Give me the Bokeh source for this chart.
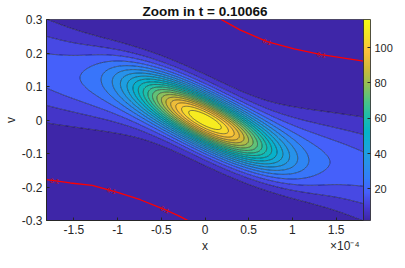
import numpy as np
from bokeh.plotting import figure
from bokeh.models import (ColorBar, LinearColorMapper, FixedTicker, CustomJSTickFormatter,
                          Range1d, LinearAxis)
from bokeh.embed import file_html
from bokeh.resources import INLINE
from bokeh.core.properties import value

# ---------------- texts / ticks ----------------
title_text = "Zoom in t = 0.10066"
x_label = "x"
y_label = "v"
x_exp_label = "×10⁻⁴"
x_ticks = [-1.5, -1.0, -0.5, 0.0, 0.5, 1.0, 1.5]      # x in units of 1e-4
y_ticks = [-0.3, -0.2, -0.1, 0.0, 0.1, 0.2, 0.3]
cbar_ticks = [20, 40, 60, 80, 100]

# ---------------- domain ----------------
x_extent = [-1.813, 1.813]
v_extent = [-0.3, 0.3]

# ---------------- field parameters ----------------
background_level = 2.0
core_peak = 90.0
core_sigma_x = 0.55
core_sigma_v = 0.092
core_corr = -0.80
wing_peak = 24.0
wing_sigma_x = 2.5
wing_slope = -0.080
wing_width_center = 0.055
wing_width_growth = 0.045
n_levels = 20

# ---------------- red 0.1 contour ----------------
red_level_text = "0.1"
red_upper_x = [0.179, 0.40, 0.71, 1.02, 1.33, 1.813]
red_upper_v = [0.301, 0.269, 0.234, 0.212, 0.195, 0.176]
red_lower_x = [-1.813, -1.54, -1.29, -1.01, -0.74, -0.48, -0.30, -0.19]
red_lower_v = [-0.178, -0.188, -0.195, -0.215, -0.238, -0.265, -0.286, -0.301]
red_label_upper_x = [0.71, 1.33]
red_label_lower_x = [-1.72, -1.07, -0.46]

# ---------------- styles ----------------
FONT = "Liberation Sans"
AX_COLOR = "#262626"
PX_RATIO = 3.75
EXP_POS = 1.6

anchors_t = [0.00, 0.07, 0.14, 0.21, 0.28, 0.36, 0.44, 0.52, 0.60, 0.68, 0.76, 0.84, 0.92, 1.00]
anchors_rgb = [(62, 38, 168), (71, 60, 215), (70, 95, 250), (50, 125, 250), (40, 145, 235),
               (25, 165, 220), (5, 180, 200), (30, 190, 170), (80, 195, 130), (150, 190, 85),
               (210, 185, 55), (252, 190, 60), (245, 225, 40), (249, 251, 20)]


def cmap(t):
    t = float(np.clip(t, 0, 1))
    r = np.interp(t, anchors_t, [c[0] for c in anchors_rgb])
    g = np.interp(t, anchors_t, [c[1] for c in anchors_rgb])
    b = np.interp(t, anchors_t, [c[2] for c in anchors_rgb])
    return "#%02x%02x%02x" % (int(round(r)), int(round(g)), int(round(b)))


palette = [cmap(i / 255) for i in range(256)]

# ---------------- field ----------------
xs = np.linspace(x_extent[0], x_extent[1], 241)
vs = np.linspace(v_extent[0], v_extent[1], 181)
X, V = np.meshgrid(xs, vs)
zx = X / core_sigma_x
zv = V / core_sigma_v
core = core_peak * np.exp(-(zx ** 2 - 2 * core_corr * zx * zv + zv ** 2) / (2 * (1 - core_corr ** 2)))
width = np.sqrt(wing_width_center ** 2 + (wing_width_growth * X) ** 2)
wing = wing_peak * np.exp(-X ** 2 / (2 * wing_sigma_x ** 2)) * np.exp(-(V - wing_slope * X) ** 2 / (2 * width ** 2))
Z = background_level + core + wing

zmin, zmax = float(Z.min()), float(Z.max())
inner = list(np.linspace(zmin, zmax, n_levels + 2)[1:-1])
levels = [zmin - 1.0] + inner + [zmax + 1.0]
fill_colors = [cmap((max(levels[i], zmin) - zmin) / (zmax - zmin)) for i in range(len(levels) - 1)]

# ---------------- figure ----------------
p = figure(frame_width=317, frame_height=201, output_backend="svg", toolbar_location=None,
           x_range=Range1d(*x_extent), y_range=Range1d(*v_extent),
           min_border_left=2, min_border_right=0, min_border_top=0, min_border_bottom=0)
p.background_fill_color = "white"
p.border_fill_color = "white"
p.grid.visible = False
p.outline_line_color = AX_COLOR
p.outline_line_width = 0.8

p.title.text = title_text
p.title.align = "center"
p.title.text_font = FONT
p.title.text_font_style = "bold"
p.title.text_font_size = "13.5px"
p.title.text_color = "#111111"
p.title.standoff = 2

cr = p.contour(xs, vs, Z, levels, fill_color=fill_colors, line_color="#000000",
               line_alpha=0.8, line_width=0.6)
cr.line_renderer.glyph.line_color = "#000000"
cr.line_renderer.glyph.line_width = 0.6
cr.line_renderer.glyph.line_alpha = 0.8

p.line(red_upper_x, red_upper_v, line_color="#ff0000", line_width=1.3)
p.line(red_lower_x, red_lower_v, line_color="#ff0000", line_width=1.3)


def label_pts(lx, xs_line, vs_line):
    lx = np.array(lx, dtype=float)
    ly = np.interp(lx, xs_line, vs_line)
    d = 0.05
    slope = (np.interp(lx + d, xs_line, vs_line) - np.interp(lx - d, xs_line, vs_line)) / (2 * d)
    ang = np.arctan(slope * PX_RATIO)
    return list(lx), list(ly), list(ang)


for lx, xl, vl in [(red_label_upper_x, red_upper_x, red_upper_v),
                   (red_label_lower_x, red_lower_x, red_lower_v)]:
    tx, ty, ta = label_pts(lx, xl, vl)
    p.text(x=tx, y=ty, text=[red_level_text] * len(tx), angle=ta,
           text_font=value(FONT), text_font_size="6.5px", text_color="#cc1010",
           text_align="center", text_baseline="middle")

fmt = CustomJSTickFormatter(code="return String(Math.round(tick*10)/10)")


def style_axis(ax, ticks):
    ax.ticker = FixedTicker(ticks=ticks)
    ax.major_tick_in = 3
    ax.major_tick_out = 0
    ax.minor_tick_line_color = None
    ax.axis_line_color = AX_COLOR
    ax.major_tick_line_color = AX_COLOR
    ax.major_label_text_font = FONT
    ax.major_label_text_font_size = "12px"
    ax.major_label_text_color = AX_COLOR
    ax.major_label_standoff = 4
    ax.axis_label_text_font = FONT
    ax.axis_label_text_font_size = "12px"
    ax.axis_label_text_font_style = "normal"
    ax.axis_label_text_color = AX_COLOR
    ax.axis_label_standoff = 1


style_axis(p.xaxis[0], x_ticks)
style_axis(p.yaxis[0], y_ticks)
p.xaxis[0].formatter = fmt
p.yaxis[0].formatter = fmt
p.yaxis[0].axis_label = y_label

ax2 = LinearAxis()
style_axis(ax2, [0.0, EXP_POS])
ax2.formatter = CustomJSTickFormatter(
    args=dict(xl=x_label, ex=x_exp_label),
    code="return Math.abs(tick) < 1e-9 ? xl : ex")
ax2.axis_line_color = None
ax2.major_tick_line_color = None
ax2.major_label_standoff = 2
p.add_layout(ax2, "below")

mapper = LinearColorMapper(palette=palette, low=zmin, high=zmax)
cb = ColorBar(color_mapper=mapper, ticker=FixedTicker(ticks=cbar_ticks), width=7,
              padding=0, margin=0, label_standoff=4,
              major_tick_in=3, major_tick_out=0, major_tick_line_color=AX_COLOR,
              minor_tick_line_color=None, bar_line_color=AX_COLOR, bar_line_width=0.8,
              major_label_text_font=FONT, major_label_text_font_size="11px",
              major_label_text_color=AX_COLOR, border_line_color=None,
              background_fill_alpha=0)
p.add_layout(cb, "right")

open("out.html", "w").write(file_html(p, INLINE))
